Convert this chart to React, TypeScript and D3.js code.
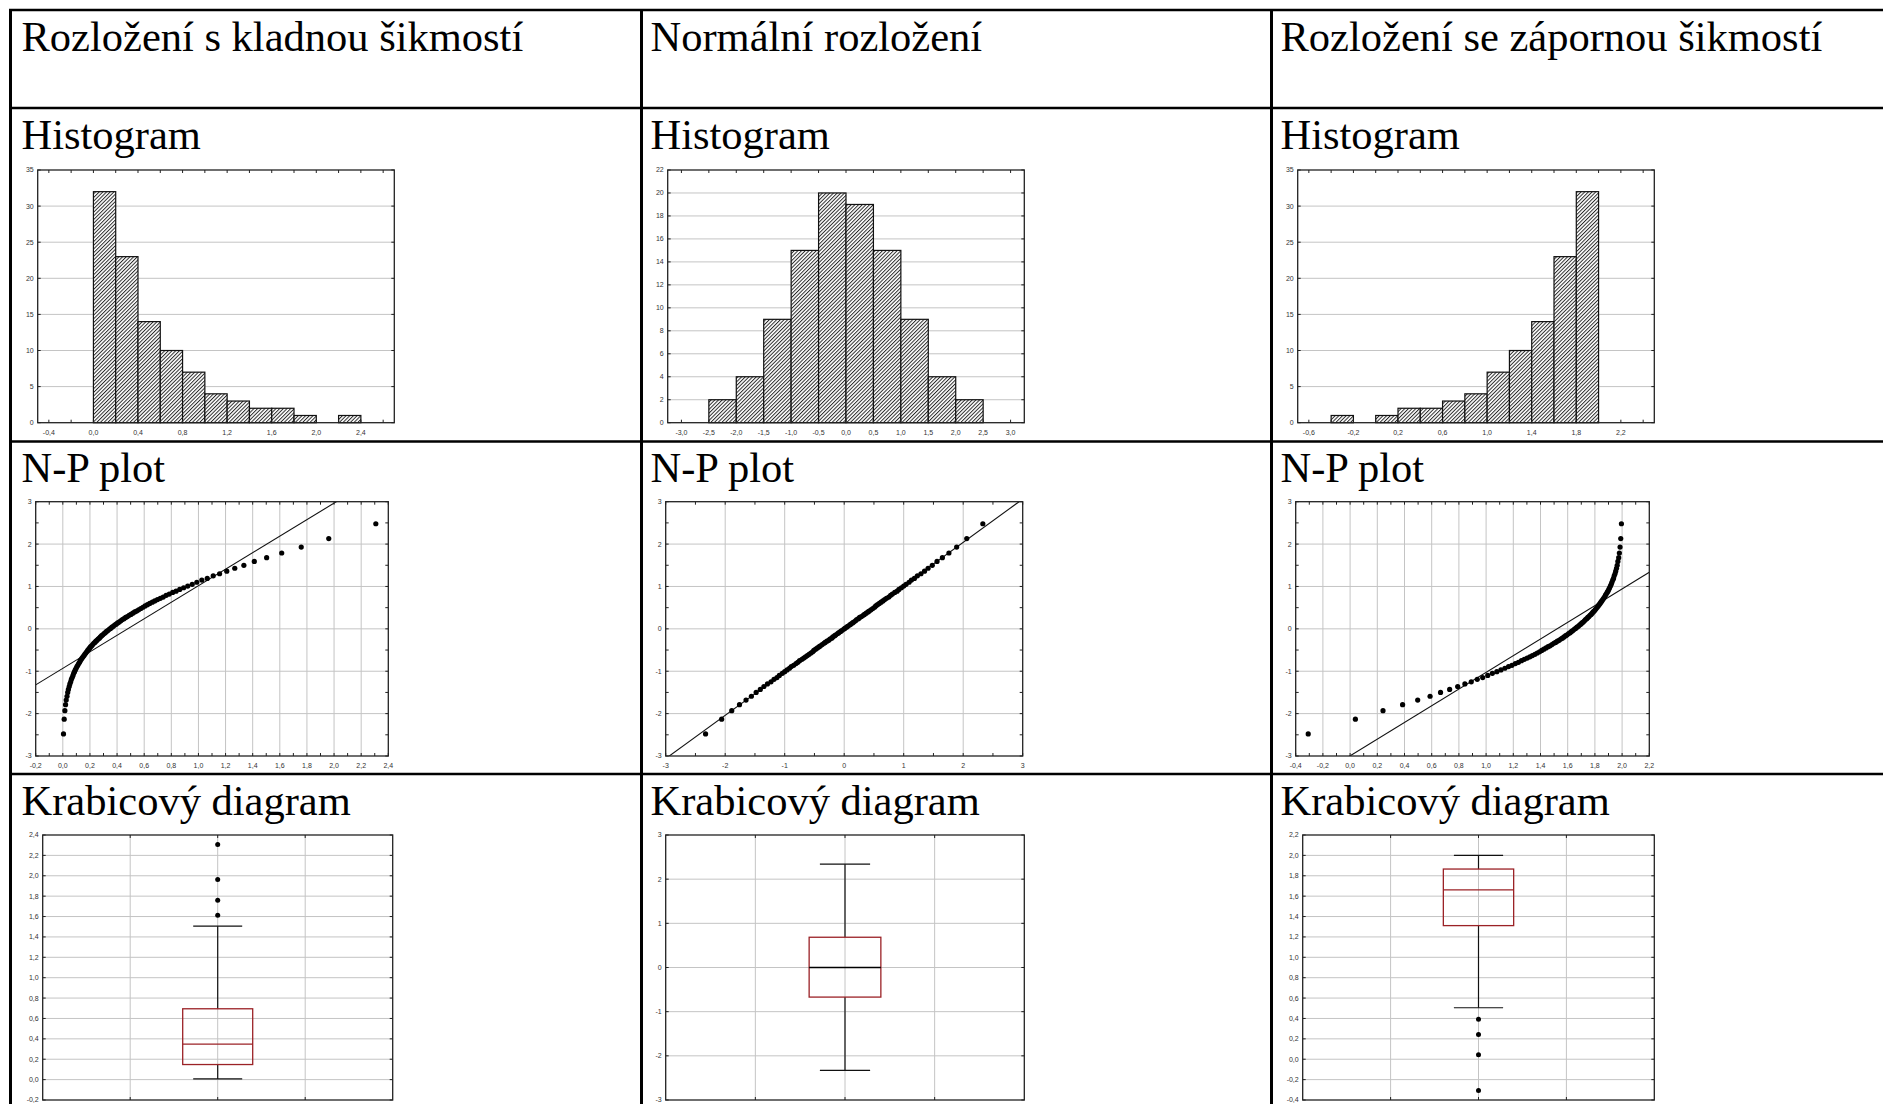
import { useEffect, useRef } from "react";
import * as d3 from "d3";

const W = 1883;
const H = 1104;

// texty tabulky
const columnTitles = [
  "Rozložení s kladnou šikmostí",
  "Normální rozložení",
  "Rozložení se zápornou šikmostí",
];
const rowTitles = ["Histogram", "N-P plot", "Krabicový diagram"];

// histogramy: dolní meze tříd a četnosti
const posBins = [0.0, 0.2, 0.4, 0.6, 0.8, 1.0, 1.2, 1.4, 1.6, 1.8, 2.0, 2.2];
const posCounts = [32, 23, 14, 10, 7, 4, 3, 2, 2, 1, 0, 1];
const normBins = [-2.5, -2.0, -1.5, -1.0, -0.5, 0.0, 0.5, 1.0, 1.5, 2.0];
const normCounts = [2, 4, 9, 15, 20, 19, 15, 9, 4, 2];
const negBins = [-0.4, -0.2, 0.0, 0.2, 0.4, 0.6, 0.8, 1.0, 1.2, 1.4, 1.6, 1.8];
const negCounts = [1, 0, 1, 2, 2, 3, 4, 7, 10, 14, 23, 32];

// popisky os histogramů
const posHistXTicks = [-0.4, 0.0, 0.4, 0.8, 1.2, 1.6, 2.0, 2.4];
const normHistXTicks = [-3.0, -2.5, -2.0, -1.5, -1.0, -0.5, 0.0, 0.5, 1.0, 1.5, 2.0, 2.5, 3.0];
const negHistXTicks = [-0.6, -0.2, 0.2, 0.6, 1.0, 1.4, 1.8, 2.2];
const histYTicks35 = [0, 5, 10, 15, 20, 25, 30, 35];
const histYTicks22 = [0, 2, 4, 6, 8, 10, 12, 14, 16, 18, 20, 22];

// N-P plot: seřazená pozorování a očekávané normální hodnoty
const posSample = [
  0.005, 0.01, 0.015, 0.02, 0.025, 0.031, 0.036, 0.041, 0.047, 0.052,
  0.058, 0.063, 0.069, 0.075, 0.08, 0.086, 0.092, 0.098, 0.104, 0.11,
  0.117, 0.123, 0.129, 0.136, 0.142, 0.149, 0.156, 0.162, 0.169, 0.176,
  0.183, 0.191, 0.198, 0.205, 0.213, 0.22, 0.228, 0.236, 0.244, 0.252,
  0.26, 0.269, 0.277, 0.286, 0.295, 0.304, 0.313, 0.322, 0.332, 0.342,
  0.352, 0.362, 0.372, 0.382, 0.393, 0.404, 0.415, 0.427, 0.439, 0.451,
  0.463, 0.476, 0.489, 0.502, 0.516, 0.53, 0.544, 0.559, 0.575, 0.591,
  0.607, 0.624, 0.641, 0.66, 0.678, 0.698, 0.719, 0.74, 0.762, 0.785,
  0.81, 0.835, 0.862, 0.891, 0.921, 0.954, 0.988, 1.025, 1.065, 1.109,
  1.156, 1.209, 1.268, 1.335, 1.412, 1.503, 1.614, 1.758, 1.961, 2.308,
];
const normSample = [
  -2.33, -2.06, -1.89, -1.76, -1.65, -1.56, -1.48, -1.41, -1.35, -1.29,
  -1.23, -1.18, -1.13, -1.09, -1.04, -1.0, -0.96, -0.92, -0.89, -0.85,
  -0.81, -0.78, -0.75, -0.71, -0.68, -0.65, -0.62, -0.59, -0.56, -0.53,
  -0.51, -0.48, -0.45, -0.42, -0.4, -0.37, -0.34, -0.32, -0.29, -0.26,
  -0.24, -0.21, -0.19, -0.16, -0.14, -0.11, -0.09, -0.06, -0.04, -0.01,
  0.01, 0.04, 0.06, 0.09, 0.11, 0.14, 0.16, 0.19, 0.21, 0.24,
  0.26, 0.29, 0.32, 0.34, 0.37, 0.4, 0.42, 0.45, 0.48, 0.51,
  0.53, 0.56, 0.59, 0.62, 0.65, 0.68, 0.71, 0.75, 0.78, 0.81,
  0.85, 0.89, 0.92, 0.96, 1.0, 1.04, 1.09, 1.13, 1.18, 1.23,
  1.29, 1.35, 1.41, 1.48, 1.56, 1.65, 1.76, 1.89, 2.06, 2.33,
];
const negSample = [
  -0.308, 0.039, 0.242, 0.386, 0.497, 0.588, 0.665, 0.732, 0.791, 0.844,
  0.891, 0.935, 0.975, 1.012, 1.046, 1.079, 1.109, 1.138, 1.165, 1.19,
  1.215, 1.238, 1.26, 1.281, 1.302, 1.322, 1.34, 1.359, 1.376, 1.393,
  1.409, 1.425, 1.441, 1.456, 1.47, 1.484, 1.498, 1.511, 1.524, 1.537,
  1.549, 1.561, 1.573, 1.585, 1.596, 1.607, 1.618, 1.628, 1.638, 1.648,
  1.658, 1.668, 1.678, 1.687, 1.696, 1.705, 1.714, 1.723, 1.731, 1.74,
  1.748, 1.756, 1.764, 1.772, 1.78, 1.787, 1.795, 1.802, 1.809, 1.817,
  1.824, 1.831, 1.838, 1.844, 1.851, 1.858, 1.864, 1.871, 1.877, 1.883,
  1.89, 1.896, 1.902, 1.908, 1.914, 1.92, 1.925, 1.931, 1.937, 1.942,
  1.948, 1.953, 1.959, 1.964, 1.969, 1.975, 1.98, 1.985, 1.99, 1.995,
];
const normalScores = [
  -2.48, -2.13, -1.93, -1.79, -1.68, -1.59, -1.5, -1.43, -1.36, -1.3,
  -1.25, -1.19, -1.15, -1.1, -1.05, -1.01, -0.97, -0.93, -0.89, -0.86,
  -0.82, -0.79, -0.75, -0.72, -0.69, -0.66, -0.63, -0.6, -0.57, -0.54,
  -0.51, -0.48, -0.45, -0.42, -0.4, -0.37, -0.34, -0.32, -0.29, -0.27,
  -0.24, -0.22, -0.19, -0.16, -0.14, -0.11, -0.09, -0.06, -0.04, -0.01,
  0.01, 0.04, 0.06, 0.09, 0.11, 0.14, 0.16, 0.19, 0.22, 0.24,
  0.27, 0.29, 0.32, 0.34, 0.37, 0.4, 0.42, 0.45, 0.48, 0.51,
  0.54, 0.57, 0.6, 0.63, 0.66, 0.69, 0.72, 0.75, 0.79, 0.82,
  0.86, 0.89, 0.93, 0.97, 1.01, 1.05, 1.1, 1.15, 1.19, 1.25,
  1.3, 1.36, 1.43, 1.5, 1.59, 1.68, 1.79, 1.93, 2.13, 2.48,
];
// přímka normálního rozložení (průměr, směrodatná odchylka)
const posFit = { mean: 0.478, sd: 0.513 };
const normFit = { mean: 0.0, sd: 0.98 };
const negFit = { mean: 1.522, sd: 0.508 };

const posNpXTicks = [-0.2, 0.0, 0.2, 0.4, 0.6, 0.8, 1.0, 1.2, 1.4, 1.6, 1.8, 2.0, 2.2, 2.4];
const normNpXTicks = [-3, -2, -1, 0, 1, 2, 3];
const negNpXTicks = [-0.4, -0.2, 0.0, 0.2, 0.4, 0.6, 0.8, 1.0, 1.2, 1.4, 1.6, 1.8, 2.0, 2.2];
const npYTicks = [-3, -2, -1, 0, 1, 2, 3];

// krabicové diagramy
const posBox = { min: 0.007, q1: 0.148, median: 0.348, q3: 0.695, max: 1.505 };
const posOutliers = [1.613, 1.761, 1.964, 2.308];
const normBox = { min: -2.33, q1: -0.67, median: 0.0, q3: 0.685, max: 2.34 };
const normOutliers: number[] = [];
const negBox = { min: 0.505, q1: 1.311, median: 1.662, q3: 1.866, max: 2.0 };
const negOutliers = [0.393, 0.243, 0.043, -0.308];

const posBoxYTicks = [-0.2, 0.0, 0.2, 0.4, 0.6, 0.8, 1.0, 1.2, 1.4, 1.6, 1.8, 2.0, 2.2, 2.4];
const normBoxYTicks = [-3, -2, -1, 0, 1, 2, 3];
const negBoxYTicks = [-0.4, -0.2, 0.0, 0.2, 0.4, 0.6, 0.8, 1.0, 1.2, 1.4, 1.6, 1.8, 2.0, 2.2];

const LABEL_FONT = "'Liberation Sans', Arial, sans-serif";
const TITLE_FONT = "'Liberation Serif', 'Times New Roman', serif";
const BOX_RED = "#9b2226";
const GRID = "#c4c4c4";

type Frame = { x0: number; x1: number; y0: number; y1: number };
type Sel = d3.Selection<SVGGElement, unknown, null, undefined>;

const comma = (d: number, digits: number) => {
  const v = Math.abs(d) < 1e-9 ? 0 : d;
  return v.toFixed(digits).replace(".", ",");
};

// rámeček, ticky dovnitř a popisky
function drawFrame(
  g: Sel,
  f: Frame,
  x: d3.ScaleLinear<number, number>,
  y: d3.ScaleLinear<number, number>,
  xMinor: number[],
  yMinor: number[],
  xLabels: number[] | null,
  xDigits: number,
  yLabels: number[],
  yDigits: number
) {
  const len = 3;
  const t = g.append("g").attr("stroke", "#222").attr("stroke-width", 1);
  t.selectAll(".xb").data(xMinor).join("line")
    .attr("x1", (d) => x(d)).attr("x2", (d) => x(d))
    .attr("y1", f.y1).attr("y2", f.y1 - len);
  t.selectAll(".xt").data(xMinor).join("line")
    .attr("x1", (d) => x(d)).attr("x2", (d) => x(d))
    .attr("y1", f.y0).attr("y2", f.y0 + len);
  t.selectAll(".yl").data(yMinor).join("line")
    .attr("x1", f.x0).attr("x2", f.x0 + len)
    .attr("y1", (d) => y(d)).attr("y2", (d) => y(d));
  t.selectAll(".yr").data(yMinor).join("line")
    .attr("x1", f.x1).attr("x2", f.x1 - len)
    .attr("y1", (d) => y(d)).attr("y2", (d) => y(d));

  g.append("rect")
    .attr("x", f.x0).attr("y", f.y0)
    .attr("width", f.x1 - f.x0).attr("height", f.y1 - f.y0)
    .attr("fill", "none").attr("stroke", "#222").attr("stroke-width", 1.3);

  const lab = g.append("g")
    .attr("font-family", LABEL_FONT).attr("font-size", 7).attr("fill", "#333");
  lab.selectAll(".ly").data(yLabels).join("text")
    .attr("x", f.x0 - 4).attr("y", (d) => y(d)).attr("dy", "0.35em")
    .attr("text-anchor", "end").text((d) => comma(d, yDigits));
  if (xLabels) {
    lab.selectAll(".lx").data(xLabels).join("text")
      .attr("x", (d) => x(d)).attr("y", f.y1 + 12)
      .attr("text-anchor", "middle").text((d) => comma(d, xDigits));
  }
}

function hGrid(g: Sel, f: Frame, y: d3.ScaleLinear<number, number>, vals: number[]) {
  g.append("g").selectAll("line").data(vals).join("line")
    .attr("x1", f.x0).attr("x2", f.x1)
    .attr("y1", (d) => y(d)).attr("y2", (d) => y(d))
    .attr("stroke", GRID).attr("stroke-width", 1);
}

function vGrid(g: Sel, f: Frame, x: d3.ScaleLinear<number, number>, vals: number[]) {
  g.append("g").selectAll("line").data(vals).join("line")
    .attr("x1", (d) => x(d)).attr("x2", (d) => x(d))
    .attr("y1", f.y0).attr("y2", f.y1)
    .attr("stroke", GRID).attr("stroke-width", 1);
}

function drawHistogram(
  g: Sel, f: Frame, bins: number[], counts: number[], binW: number,
  xDomain: [number, number], xTicks: number[], minorStep: number, yTicks: number[]
) {
  const x = d3.scaleLinear().domain(xDomain).range([f.x0, f.x1]);
  const y = d3.scaleLinear().domain([0, yTicks[yTicks.length - 1]]).range([f.y1, f.y0]);
  hGrid(g, f, y, yTicks.slice(1, -1));
  const data = bins.map((b, i) => ({ b, c: counts[i] }));
  g.append("g").selectAll("rect").data(data.filter((d) => d.c > 0)).join("rect")
    .attr("x", (d) => x(d.b)).attr("width", (d) => x(d.b + binW) - x(d.b))
    .attr("y", (d) => y(d.c)).attr("height", (d) => y(0) - y(d.c))
    .attr("fill", "url(#hatch)").attr("stroke", "#111").attr("stroke-width", 1.2);
  const minor = d3.range(xTicks[0], xTicks[xTicks.length - 1] + minorStep * 1.01, minorStep)
    .filter((v) => v <= xDomain[1]);
  drawFrame(g, f, x, y, minor, yTicks, xTicks, 1, yTicks, 0);
}

function drawNP(
  g: Sel, f: Frame, id: string, sample: number[], scores: number[],
  fit: { mean: number; sd: number }, xTicks: number[], digits: number
) {
  const x = d3.scaleLinear().domain([xTicks[0], xTicks[xTicks.length - 1]]).range([f.x0, f.x1]);
  const y = d3.scaleLinear().domain([-3, 3]).range([f.y1, f.y0]);
  vGrid(g, f, x, xTicks.slice(1, -1));
  hGrid(g, f, y, npYTicks.slice(1, -1));
  g.append("clipPath").attr("id", id).append("rect")
    .attr("x", f.x0).attr("y", f.y0).attr("width", f.x1 - f.x0).attr("height", f.y1 - f.y0);
  const xd = x.domain();
  const fitLine = d3.line<number>().x((d) => x(d)).y((d) => y((d - fit.mean) / fit.sd));
  g.append("path").datum(xd).attr("d", fitLine)
    .attr("clip-path", `url(#${id})`)
    .attr("fill", "none").attr("stroke", "#111").attr("stroke-width", 1.1);
  g.append("g").selectAll("circle").data(sample.map((s, i) => [s, scores[i]])).join("circle")
    .attr("cx", (d) => x(d[0])).attr("cy", (d) => y(d[1])).attr("r", 2.6).attr("fill", "#000");
  const step = xTicks[1] - xTicks[0];
  const xMinor = d3.range(xTicks[0], xTicks[xTicks.length - 1] + step * 0.26, step / 2);
  const yMinor = d3.range(-3, 3.01, 0.5);
  drawFrame(g, f, x, y, xMinor, yMinor, xTicks, digits, npYTicks, 0);
}

function drawBox(
  g: Sel, f: Frame,
  s: { min: number; q1: number; median: number; q3: number; max: number },
  outliers: number[], yTicks: number[], digits: number, medianColor: string
) {
  const x = d3.scaleLinear().domain([0, 4]).range([f.x0, f.x1]);
  const y = d3.scaleLinear().domain([yTicks[0], yTicks[yTicks.length - 1]]).range([f.y1, f.y0]);
  vGrid(g, f, x, [1, 2, 3]);
  hGrid(g, f, y, yTicks.slice(1, -1));
  const c = 2;
  const wl = g.append("g").attr("stroke", "#111").attr("stroke-width", 1.2);
  wl.append("line").attr("x1", x(c)).attr("x2", x(c)).attr("y1", y(s.q3)).attr("y2", y(s.max));
  wl.append("line").attr("x1", x(c)).attr("x2", x(c)).attr("y1", y(s.q1)).attr("y2", y(s.min));
  wl.append("line").attr("x1", x(c - 0.28)).attr("x2", x(c + 0.28)).attr("y1", y(s.max)).attr("y2", y(s.max));
  wl.append("line").attr("x1", x(c - 0.28)).attr("x2", x(c + 0.28)).attr("y1", y(s.min)).attr("y2", y(s.min));
  g.append("rect")
    .attr("x", x(c - 0.4)).attr("width", x(c + 0.4) - x(c - 0.4))
    .attr("y", y(s.q3)).attr("height", y(s.q1) - y(s.q3))
    .attr("fill", "none").attr("stroke", BOX_RED).attr("stroke-width", 1.3);
  g.append("line")
    .attr("x1", x(c - 0.4)).attr("x2", x(c + 0.4))
    .attr("y1", y(s.median)).attr("y2", y(s.median))
    .attr("stroke", medianColor).attr("stroke-width", 1.3);
  g.append("g").selectAll("circle").data(outliers).join("circle")
    .attr("cx", x(c)).attr("cy", (d) => y(d)).attr("r", 2.5).attr("fill", "#000");
  drawFrame(g, f, x, y, [1, 2, 3], yTicks, null, 0, yTicks, digits);
}

export default function App() {
  const svgRef = useRef<SVGSVGElement>(null);

  useEffect(() => {
    const svg = d3.select(svgRef.current);
    svg.selectAll("*").remove();

    svg.append("rect").attr("width", W).attr("height", H).attr("fill", "#fff");

    const hs = 2.6;
    const pat = svg.append("defs").append("pattern")
      .attr("id", "hatch").attr("patternUnits", "userSpaceOnUse")
      .attr("width", hs).attr("height", hs)
      .attr("patternTransform", "rotate(45)");
    pat.append("rect").attr("width", hs).attr("height", hs).attr("fill", "#fff");
    pat.append("line").attr("x1", 0.5).attr("x2", 0.5).attr("y1", 0).attr("y2", hs)
      .attr("stroke", "#222").attr("stroke-width", 0.95);

    const root = svg.append("g") as unknown as Sel;

    // mřížka tabulky
    const colX = [10.5, 641.5, 1271.5];
    const rowY = [10, 108, 441.5, 774];
    const tbl = root.append("g").attr("stroke", "#000");
    rowY.forEach((yy) => {
      tbl.append("line").attr("x1", 9).attr("x2", W).attr("y1", yy).attr("y2", yy).attr("stroke-width", 2.5);
    });
    colX.forEach((xx) => {
      tbl.append("line").attr("x1", xx).attr("x2", xx).attr("y1", 9).attr("y2", H).attr("stroke-width", 3);
    });

    const txt = root.append("g")
      .attr("font-family", TITLE_FONT).attr("font-size", 42.5).attr("fill", "#000");
    columnTitles.forEach((t, ci) => {
      const tx = ci === 0 ? colX[0] + 11 : colX[ci] + 9;
      txt.append("text").attr("x", tx).attr("y", rowY[0] + 40.5).text(t);
      rowTitles.forEach((r, ri) => {
        txt.append("text").attr("x", tx).attr("y", rowY[ri + 1] + 40.5).text(r);
      });
    });

    const off = [0, 630, 1260];
    const hf = (o: number): Frame => ({ x0: o + 37.7, x1: o + 394.3, y0: 170, y1: 422.7 });

    drawHistogram(root.append("g") as Sel, hf(off[0]), posBins, posCounts, 0.2, [-0.5, 2.7], posHistXTicks, 0.2, histYTicks35);
    drawHistogram(root.append("g") as Sel, hf(off[1]), normBins, normCounts, 0.5, [-3.25, 3.25], normHistXTicks, 0.5, histYTicks22);
    drawHistogram(root.append("g") as Sel, hf(off[2]), negBins, negCounts, 0.2, [-0.7, 2.5], negHistXTicks, 0.2, histYTicks35);

    drawNP(root.append("g") as Sel, { x0: 35.7, x1: 388.3, y0: 501.7, y1: 756 }, "np1", posSample, normalScores, posFit, posNpXTicks, 1);
    drawNP(root.append("g") as Sel, { x0: 665.7, x1: 1022.7, y0: 501.7, y1: 756 }, "np2", normSample, normalScores, normFit, normNpXTicks, 0);
    drawNP(root.append("g") as Sel, { x0: 1295.7, x1: 1649.3, y0: 501.7, y1: 756 }, "np3", negSample, normalScores, negFit, negNpXTicks, 1);

    drawBox(root.append("g") as Sel, { x0: 42.7, x1: 392.7, y0: 835, y1: 1100 }, posBox, posOutliers, posBoxYTicks, 1, BOX_RED);
    drawBox(root.append("g") as Sel, { x0: 665.7, x1: 1024.3, y0: 835, y1: 1100 }, normBox, normOutliers, normBoxYTicks, 0, "#000");
    drawBox(root.append("g") as Sel, { x0: 1302.7, x1: 1654.3, y0: 835, y1: 1100 }, negBox, negOutliers, negBoxYTicks, 1, BOX_RED);
  }, []);

  return (
    <svg
      ref={svgRef}
      width={W}
      height={H}
      style={{ position: "absolute", left: 0, top: 0, display: "block" }}
    />
  );
}
